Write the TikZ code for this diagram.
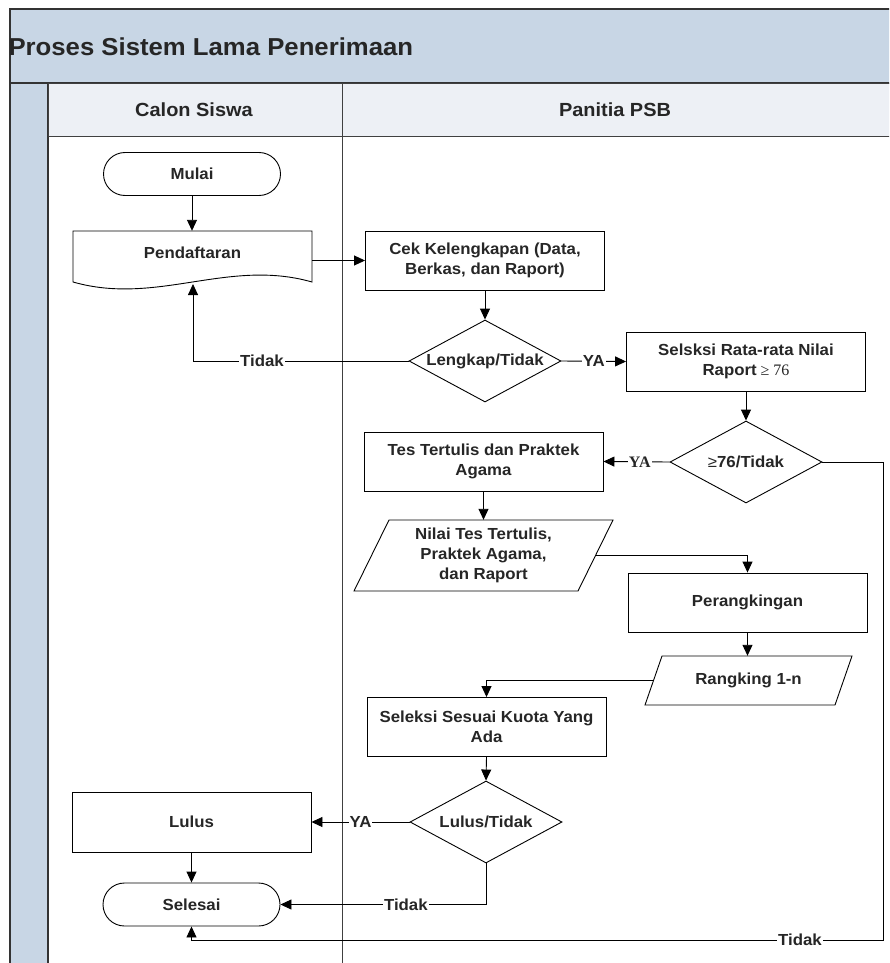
\documentclass[tikz,border=0pt]{standalone}
\usepackage{fontspec}
\setmainfont{Liberation Sans}[FakeStretch=1.05]
\newfontfamily\labelserif{Liberation Serif}
\usetikzlibrary{arrows.meta,shapes.geometric,calc}
\definecolor{laneblue}{HTML}{C8D6E5}
\definecolor{lanepale}{HTML}{EDF0F5}

\begin{document}
\begin{tikzpicture}[x=1pt,y=-1pt,
  every node/.style={font=\fontsize{16}{20}\selectfont\bfseries, text=black!85},
  frame/.style={draw=black!80, line width=1.4pt},
  thinframe/.style={draw=black!75, line width=0.9pt},
  flow/.style={draw=black, line width=0.9pt},
  procbox/.style={flow, rectangle, minimum width=239pt, minimum height=59pt, align=center, inner sep=2pt},
  terminal/.style={flow, rectangle, rounded corners=21.5pt, minimum width=177pt, minimum height=43pt},
  decision/.style={flow, diamond, minimum width=152pt, minimum height=82pt, inner sep=0pt},
  anchorbox/.style={rectangle, draw=none, inner sep=0pt, align=center},
  link/.style={line width=0.9pt, -{Triangle[length=11pt,width=10pt]}},
  lbl/.style={fill=white, inner sep=1pt},
]
\path[use as bounding box] (0,0) rectangle (889,963);
\clip (0,0) rectangle (889,963);
\fill[white] (0,0) rectangle (889,963);

% pool header, lane strip and lane headers
\path[frame, fill=laneblue] (10,9) rectangle (900,83);
\node[anchor=west, font=\fontsize{24.5}{29}\selectfont\bfseries] (title) at (5,47) {Proses Sistem Lama Penerimaan};
\path[frame, fill=laneblue] (10,83) rectangle (48,980);
\path[thinframe, fill=lanepale] (48,83) rectangle (900,136);
\draw[thinframe] (342,83) -- (342,980);
\node[font=\fontsize{19}{22}\selectfont\bfseries] (laneA) at (194,110) {Calon Siswa};
\node[font=\fontsize{19}{22}\selectfont\bfseries] (laneB) at (615,110) {Panitia PSB};

% flow nodes
\node[terminal] (mulai) at (192,174) {Mulai};

\node[anchorbox, minimum width=239pt, minimum height=44pt] (pend) at (192.5,253) {Pendaftaran};
\draw[flow] (73,231) -- (312,231) -- (312,282)
  .. controls (228,258) and (157,306) .. (73,282) -- cycle;
\coordinate (pendbottom) at (193,284);

\node[procbox] (cek) at (485,260.5) {Cek Kelengkapan (Data,\\Berkas, dan Raport)};
\node[decision] (dlengkap) at (485,361) {\makebox[0pt]{Lengkap/Tidak}};
\node[procbox] (sel76) at (746,361.5) {Selsksi Rata-rata Nilai\\Raport{\labelserif\mdseries\ ≥ 76}};
\node[decision] (d76) at (746,462) {\makebox[0pt]{{\mdseries ≥}76/Tidak}};
\node[procbox] (tes) at (483.5,461.5) {Tes Tertulis dan Praktek\\Agama};

\node[anchorbox, minimum width=224pt, minimum height=71pt] (nilai) at (483.5,555.5)
  {Nilai Tes Tertulis,\\Praktek Agama,\\dan Raport};
\draw[flow] (389,520) -- (613,520) -- (578,591) -- (354,591) -- cycle;
\coordinate (nilaiR) at (596,555);

\node[procbox] (rank) at (747.5,602.5) {Perangkingan};

\node[anchorbox, minimum width=190pt, minimum height=49pt] (rangking) at (748.5,680.5) {Rangking 1-n};
\draw[flow] (662,656) -- (852,656) -- (835,705) -- (645,705) -- cycle;
\coordinate (rankL) at (654,680);

\node[procbox] (kuota) at (486.5,727) {Seleksi Sesuai Kuota Yang\\Ada};
\node[decision] (dlulus) at (486,822) {\makebox[0pt]{Lulus/Tidak}};
\node[procbox, minimum height=60pt] (lulus) at (191.5,822) {Lulus};
\node[terminal] (selesai) at (191.5,904.5) {Selesai};
\coordinate (loopR) at (883,940);

% connectors
\draw[link] (mulai.south) -- (mulai.south |- pend.north);
\draw[link] (pend.east |- cek.west) -- (cek.west);
\draw[link] (cek.south) -- (dlengkap.north);
\draw[link] (dlengkap.west) -- node[lbl, pos=0.68] {Tidak} (dlengkap.west -| pendbottom) -- (pendbottom);
\draw[link] (dlengkap.east) -- node[lbl, pos=0.5] {YA} (sel76.west);
\draw[link] (sel76.south) -- (d76.north);
\draw[link] (d76.west) -- node[lbl, pos=0.45, font=\fontsize{16}{20}\labelserif\bfseries] {YA} (tes.east);
\draw[link] (d76.east) -- (d76.east -| loopR) -- (loopR)
  -- node[lbl, pos=0.12] {Tidak} (loopR -| selesai.south) -- (selesai.south);
\draw[link] (tes.south) -- (tes.south |- nilai.north);
\draw[link] (nilaiR) -- (nilaiR -| rank.north) -- (rank.north);
\draw[link] (rank.south) -- (rank.south |- rangking.north);
\draw[link] (rankL) -- (rankL -| kuota.north) -- (kuota.north);
\draw[link] (kuota.south) -- (dlulus.north);
\draw[link] (dlulus.west) -- node[lbl, pos=0.5] {YA} (lulus.east);
\draw[link] (lulus.south) -- (selesai.north);
\draw[link] (dlulus.south) -- (dlulus.south |- selesai.east) -- node[lbl, pos=0.39] {Tidak} (selesai.east);
\end{tikzpicture}
\end{document}
